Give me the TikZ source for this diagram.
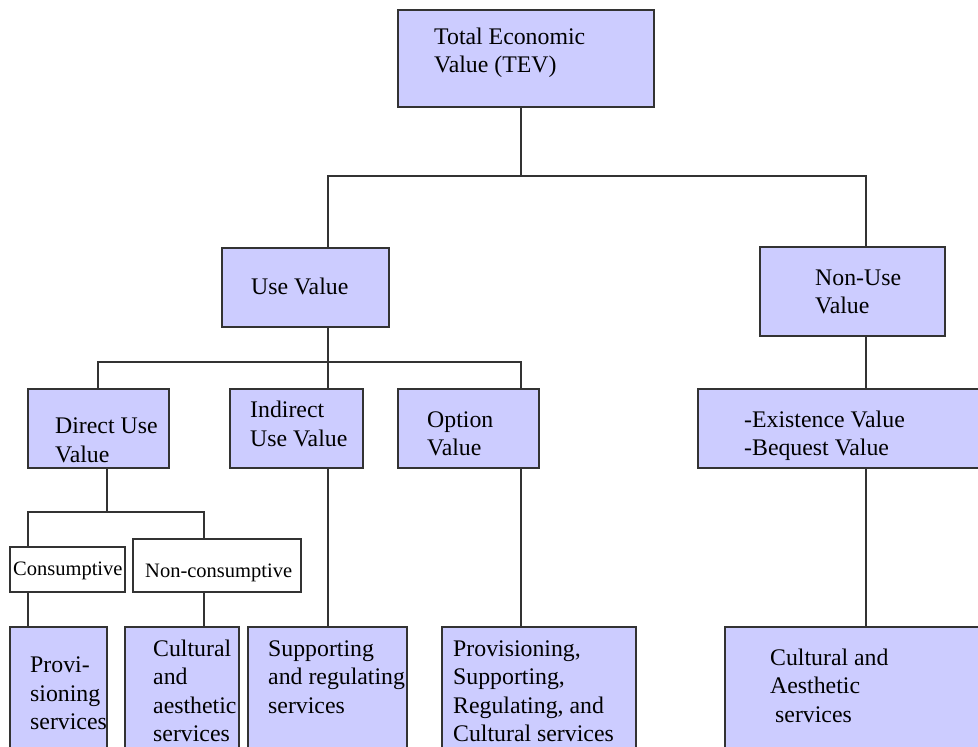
\documentclass[tikz,border=0pt]{standalone}
\usepackage{fontspec}
\setmainfont{Liberation Serif}
\definecolor{boxfill}{HTML}{CCCCFF}
\definecolor{linec}{HTML}{333333}
\begin{document}
\begin{tikzpicture}[x=1pt,y=-1pt,
  box/.style={draw=linec, line width=1.2pt, fill=boxfill, rectangle, inner sep=0pt},
  wbox/.style={draw=linec, line width=1.2pt, fill=white, rectangle, inner sep=0pt},
  txt/.style={anchor=west, align=left, inner sep=0pt, font=\fontsize{23.8}{28.5}\selectfont},
  stxt/.style={anchor=west, align=left, inner sep=0pt, font=\fontsize{20.5}{24}\selectfont},
  conn/.style={draw=linec, line width=1.2pt}]
\useasboundingbox (0,0) rectangle (978,747);
\clip (0,0) rectangle (978,747);
\fill[white] (0,0) rectangle (978,747);

% boxes
\node[box, minimum width=256pt, minimum height=97pt] (tev) at (526,58.5) {};
\node[box, minimum width=167pt, minimum height=79pt] (use) at (305.5,287.5) {};
\node[box, minimum width=185pt, minimum height=89pt] (nonuse) at (852.5,291.5) {};
\node[box, minimum width=141pt, minimum height=79pt] (direct) at (98.5,428.5) {};
\node[box, minimum width=133pt, minimum height=79pt] (indirect) at (296.5,428.5) {};
\node[box, minimum width=141pt, minimum height=79pt] (option) at (468.5,428.5) {};
\node[box, minimum width=292pt, minimum height=79pt] (exist) at (844,428.5) {};
\node[wbox, minimum width=115pt, minimum height=45pt] (cons) at (67.5,569.5) {};
\node[wbox, minimum width=168pt, minimum height=53pt] (noncons) at (217,565.5) {};
\node[box, minimum width=97pt, minimum height=133pt] (prov) at (58.5,693.5) {};
\node[box, minimum width=114pt, minimum height=133pt] (cult) at (182,693.5) {};
\node[box, minimum width=159pt, minimum height=133pt] (supp) at (327.5,693.5) {};
\node[box, minimum width=194pt, minimum height=133pt] (provsup) at (539,693.5) {};
\node[box, minimum width=265pt, minimum height=133pt] (cultae) at (857.5,693.5) {};

% texts
\node[txt] (tevt) at (434,53) {Total Economic\\Value (TEV)};
\node[txt] (uset) at (251,286) {Use Value};
\node[txt] (nonuset) at (815,292) {Non-Use\\Value};
\node[txt] (directt) at (55,440.5) {Direct Use\\Value};
\node[txt] (indirectt) at (250,424) {Indirect\\Use Value};
\node[txt] (optiont) at (427,434) {Option\\Value};
\node[txt] (existt) at (744,436) {-Existence Value\\-Bequest Value};
\node[stxt] (const) at (13,571) {Consumptive};
\node[stxt] (nonconst) at (145,573) {Non-consumptive};
\node[txt] (provt) at (30,693.5) {Provi-\\sioning\\services};
\node[txt] (cultt) at (153,691) {Cultural\\and\\aesthetic\\services};
\node[txt] (suppt) at (268,677) {Supporting\\and regulating\\services};
\node[txt] (provsupt) at (453,691) {Provisioning,\\Supporting,\\Regulating, and\\Cultural services};
\node[txt] (cultaet) at (770,685.5) {Cultural and\\Aesthetic\\\hspace*{5pt}services};

% junction coordinates
\coordinate (b1) at (521,176);
\coordinate (uL) at (328,176);
\coordinate (nR) at (866,176);
\coordinate (b2) at (328,362);
\coordinate (dL) at (98,362);
\coordinate (oR) at (521,362);
\coordinate (b3) at (107,512);
\coordinate (cL) at (28,512);
\coordinate (ncR) at (204,512);

% connectors
\draw[conn] (tev.south -| b1) -- (b1);
\draw[conn] (use.north -| uL) -- (uL) -- (nR) -- (nonuse.north -| nR);
\draw[conn] (use.south -| b2) -- (b2);
\draw[conn] (direct.north -| dL) -- (dL) -- (oR) -- (option.north -| oR);
\draw[conn] (b2) -- (indirect.north -| b2);
\draw[conn] (nonuse.south -| nR) -- (exist.north -| nR);
\draw[conn] (direct.south -| b3) -- (b3);
\draw[conn] (cons.north -| cL) -- (cL) -- (ncR) -- (noncons.north -| ncR);
\draw[conn] (cons.south -| cL) -- (prov.north -| cL);
\draw[conn] (noncons.south -| ncR) -- (cult.north -| ncR);
\draw[conn] (indirect.south -| b2) -- (supp.north -| b2);
\draw[conn] (option.south -| oR) -- (provsup.north -| oR);
\draw[conn] (exist.south -| nR) -- (cultae.north -| nR);
\end{tikzpicture}
\end{document}
